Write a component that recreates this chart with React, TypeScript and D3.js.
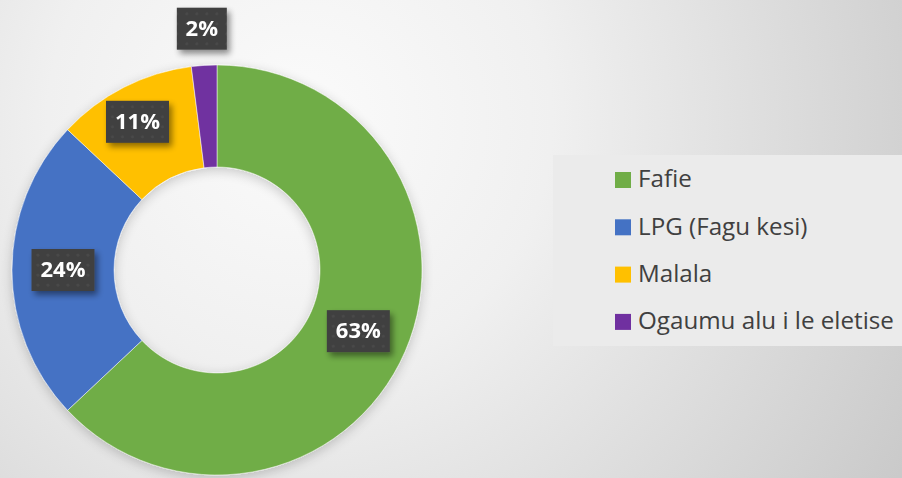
import React from "react";
import * as d3 from "d3";

const categories = ["Fafie", "LPG (Fagu kesi)", "Malala", "Ogaumu alu i le eletise"];
const values = [63, 24, 11, 2];
const labels = ["63%", "24%", "11%", "2%"];
const colors = ["#70AD47", "#4472C4", "#FFC000", "#7030A0"];
const labelRadiusFactor = [1, 1, 1.08, 1.57];

const W = 902;
const H = 478;

export default function App() {
  const cx = 217;
  const cy = 270;
  const outerR = 205;
  const innerR = 103;
  const pie = d3.pie<number>().sort(null).value((d) => d)(values);
  const arc = d3.arc<d3.PieArcDatum<number>>().innerRadius(innerR).outerRadius(outerR);
  const midR = (innerR + outerR) / 2;

  const legendX = 553;
  const legendY = 155;
  const rowGap = 47.3;

  return (
    <div style={{ position: "fixed", left: 0, top: 0, width: W, height: H }}>
      <svg width={W} height={H} style={{ display: "block" }}>
        <defs>
          <radialGradient id="bg" cx="300" cy="120" r="720" gradientUnits="userSpaceOnUse">
            <stop offset="0" stopColor="#fbfbfb" />
            <stop offset="0.35" stopColor="#f0f0f0" />
            <stop offset="1" stopColor="#c8c8c8" />
          </radialGradient>
          <pattern id="dots" width="10" height="10" patternUnits="userSpaceOnUse">
            <rect width="10" height="10" fill="#3f3f3f" />
            <circle cx="5" cy="5" r="1.6" fill="#4a4a4a" />
          </pattern>
          <filter id="shadow" x="-20%" y="-20%" width="150%" height="160%">
            <feGaussianBlur in="SourceAlpha" stdDeviation="3" />
            <feOffset dx="3" dy="4" result="b" />
            <feComponentTransfer>
              <feFuncA type="linear" slope="0.45" />
            </feComponentTransfer>
            <feMerge>
              <feMergeNode />
              <feMergeNode in="SourceGraphic" />
            </feMerge>
          </filter>
          <filter id="donutShadow" x="-10%" y="-10%" width="130%" height="130%">
            <feGaussianBlur in="SourceAlpha" stdDeviation="6" />
            <feOffset dx="0" dy="3" />
            <feComponentTransfer>
              <feFuncA type="linear" slope="0.2" />
            </feComponentTransfer>
            <feMerge>
              <feMergeNode />
              <feMergeNode in="SourceGraphic" />
            </feMerge>
          </filter>
        </defs>
        <rect x={0} y={0} width={W} height={H} fill="url(#bg)" />

        <g transform={`translate(${cx},${cy})`} filter="url(#donutShadow)">
          {pie.map((d, i) => (
            <path key={i} d={arc(d) || ""} fill={colors[i]} stroke="#ffffff" strokeWidth={0.5} />
          ))}
        </g>

        <g transform={`translate(${cx},${cy})`}>
          {pie.map((d, i) => {
            const a = (d.startAngle + d.endAngle) / 2;
            const r = midR * labelRadiusFactor[i];
            const x = Math.sin(a) * r - (i === 2 ? 4 : 0);
            const y = -Math.cos(a) * r;
            const bw = i === 3 ? 50 : 63;
            const bh = 42;
            return (
              <g key={i} transform={`translate(${x},${y})`}>
                <rect
                  x={-bw / 2}
                  y={-bh / 2}
                  width={bw}
                  height={bh}
                  fill="url(#dots)"
                  filter="url(#shadow)"
                />
                <text
                  x={0}
                  y={1}
                  textAnchor="middle"
                  dominantBaseline="middle"
                  fill="#ffffff"
                  fontFamily="'Open Sans', sans-serif"
                  fontWeight={700}
                  fontSize={22}
                >
                  {labels[i]}
                </text>
              </g>
            );
          })}
        </g>

        <rect x={legendX} y={legendY} width={W - legendX} height={191} fill="#ebebeb" />
        {categories.map((c, i) => {
          const yc = 180 + i * rowGap;
          return (
            <g key={c}>
              <rect x={615} y={yc - 8} width={16} height={16} fill={colors[i]} />
              <text
                x={638}
                y={yc + 1}
                dominantBaseline="middle"
                fill="#404040"
                fontFamily="'Open Sans', sans-serif"
                fontSize={24.2}
              >
                {c}
              </text>
            </g>
          );
        })}
      </svg>
    </div>
  );
}
